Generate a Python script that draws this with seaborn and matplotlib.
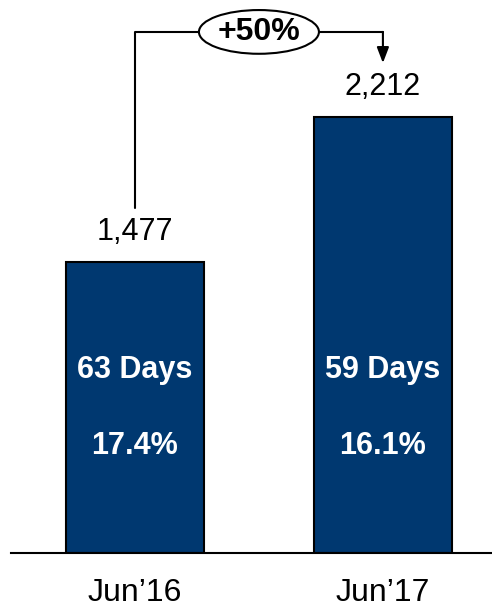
import matplotlib.pyplot as plt
import seaborn as sns
import pandas as pd
from matplotlib.patches import Ellipse

periods = ['Jun\u201916', 'Jun\u201917']
values = [1477, 2212]
days = ['63 Days', '59 Days']
pcts = ['17.4%', '16.1%']
growth = '+50%'

sns.set_style('white')
plt.rcParams['font.family'] = ['Liberation Sans', 'DejaVu Sans']
plt.rcParams['text.color'] = 'black'

df = pd.DataFrame({'period': periods, 'value': values})

fig = plt.figure(figsize=(4.92, 6.09), dpi=100)
ax = fig.add_axes([11 / 492, 56 / 609, 481 / 492, 553 / 609])

sns.barplot(data=df, x='period', y='value', color='#003870', saturation=1,
            width=0.556, edgecolor='black', linewidth=1.5, ax=ax)

ax.set_xlim(-0.5, 1.44)
ax.set_ylim(0, 2807)

# value labels above bars, text inside bars
for i, v in enumerate(values):
    ax.annotate(f'{v:,}', xy=(i, v), xytext=(0, 21.5), textcoords='offset points',
                ha='center', va='center', fontsize=22, color='black')
    ax.text(i, 929, days[i], ha='center', va='center', fontsize=22,
            fontweight='bold', color='white')
    ax.text(i, 543, pcts[i], ha='center', va='center', fontsize=22,
            fontweight='bold', color='white')

# growth bracket
y_top = 2645
ax.plot([0, 0, 1], [1751, y_top, y_top], color='black', lw=1.5, clip_on=False)
ax.annotate('', xy=(1, 2487), xytext=(1, y_top),
            arrowprops=dict(arrowstyle='-|>,head_length=0.47,head_width=0.18',
                            color='black', lw=1.5, mutation_scale=20,
                            shrinkA=0, shrinkB=0), annotation_clip=False)
ax.add_patch(Ellipse((0.5, y_top), 0.484, 222, facecolor='white',
                     edgecolor='black', lw=1.5, zorder=5, clip_on=False))
ax.text(0.5, y_top, growth, ha='center', va='center', fontsize=23,
        fontweight='bold', color='black', zorder=6)

for s in ['top', 'left', 'right']:
    ax.spines[s].set_visible(False)
ax.spines['bottom'].set_linewidth(1.5)
ax.spines['bottom'].set_color('black')
ax.set_yticks([])
ax.set_xlabel('')
ax.set_ylabel('')
ax.tick_params(axis='x', length=0, pad=18, labelsize=23, labelcolor='black')

fig.savefig('out.png', dpi=100)
